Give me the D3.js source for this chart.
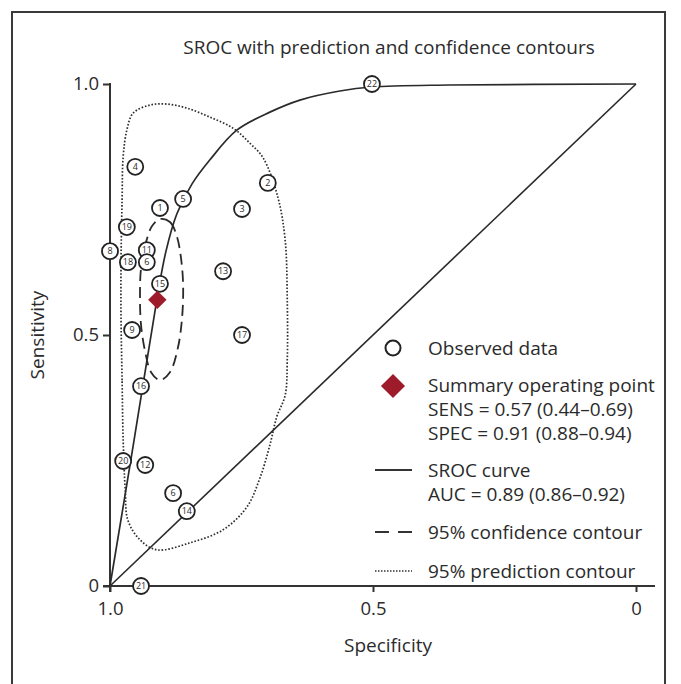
<!DOCTYPE html>
<html>
<head>
<meta charset="utf-8">
<script src="https://cdn.jsdelivr.net/npm/d3@7"></script>
<style>
  body { margin: 0; background: #fff; }
  text { font-family: "Open Sans", "Noto Sans", sans-serif; fill: #2b2b2b; }
</style>
</head>
<body>
<svg id="chart" width="681" height="684"></svg>
<script>
// observed studies: [label, specificity, sensitivity]
var studyLabels = ["4","2","5","1","3","19","8","11","18","6","13","15","9","17","16","20","12","6","14","21","22"]
var studySpec   = [0.952,0.700,0.861,0.905,0.749,0.968,1.000,0.930,0.966,0.930,0.785,0.905,0.958,0.749,0.941,0.975,0.933,0.880,0.854,0.941,0.502]
var studySens   = [0.835,0.803,0.771,0.753,0.751,0.715,0.667,0.669,0.645,0.645,0.627,0.602,0.510,0.500,0.398,0.249,0.241,0.185,0.149,0.000,1.000]

var summarySpec = 0.91, summarySens = 0.57

// SROC curve
var srocSpec = [1.000,0.956,0.911,0.894,0.873,0.844,0.810,0.759,0.696,0.639,0.563,0.502,0.354,0.000]
var srocSens = [0.000,0.279,0.570,0.665,0.741,0.801,0.849,0.908,0.944,0.968,0.986,0.994,0.998,1.000]

// 95% confidence contour
var confSpec = [0.905,0.886,0.873,0.865,0.861,0.863,0.871,0.886,0.905,0.922,0.933,0.941,0.943,0.941,0.932,0.920]
var confSens = [0.731,0.725,0.697,0.653,0.600,0.534,0.474,0.426,0.410,0.426,0.466,0.520,0.580,0.633,0.683,0.717]

// 95% prediction contour
var predSpec = [0.975,0.977,0.979,0.979,0.977,0.975,0.968,0.956,0.924,0.892,0.854,0.810,0.766,0.734,0.709,0.681,0.667,0.663,0.663,0.667,0.683,0.696,0.715,0.740,0.785,0.848,0.911,0.943,0.966,0.971]
var predSens = [0.291,0.410,0.530,0.649,0.769,0.855,0.908,0.942,0.958,0.960,0.952,0.934,0.912,0.882,0.853,0.775,0.689,0.570,0.450,0.380,0.337,0.281,0.215,0.157,0.112,0.086,0.072,0.092,0.131,0.191]

var tickVals = [1, 0.5, 0]
var tickText = {1: "1.0", 0.5: "0.5", 0: "0"}

var legendItems = [
    {type: "circle", lines: ["Observed data"]},
    {type: "diamond", lines: ["Summary operating point", "SENS = 0.57 (0.44\u20130.69)", "SPEC = 0.91 (0.88\u20130.94)"]},
    {type: "solid", lines: ["SROC curve", "AUC = 0.89 (0.86\u20130.92)"]},
    {type: "dash", lines: ["95% confidence contour"]},
    {type: "dot", lines: ["95% prediction contour"]}
]
var legendY = [348, 385, 470, 532, 571]

var svg = d3.select("#chart")

var margin = {top: 84, right: 45, bottom: 98, left: 110},
    width = +svg.attr("width") - margin.left - margin.right,
    height = +svg.attr("height") - margin.top - margin.bottom;

var x = d3.scaleLinear().domain([1, 0]).range([margin.left, margin.left + width])
var y = d3.scaleLinear().domain([0, 1]).range([margin.top + height, margin.top])

// outer frame
svg.append("rect")
    .attr("x", 12).attr("y", 12)
    .attr("width", 653).attr("height", 700)
    .attr("fill", "none").attr("stroke", "#3a3a3a").attr("stroke-width", 2)

svg.append("text")
    .attr("x", 389).attr("y", 54)
    .attr("text-anchor", "middle")
    .style("font-size", "19px")
    .text("SROC with prediction and confidence contours")

// axes
var xAxis = d3.axisBottom(x).tickValues(tickVals).tickSize(6).tickSizeOuter(0)
    .tickFormat(function(d){ return tickText[d] })
var yAxis = d3.axisLeft(y).tickValues(tickVals).tickSize(7).tickSizeOuter(0)
    .tickFormat(function(d){ return tickText[d] })

var gx = svg.append("g").attr("transform", "translate(0," + y(0) + ")").call(xAxis)
var gy = svg.append("g").attr("transform", "translate(" + x(1) + ",0)").call(yAxis)

gx.select(".domain").remove()
gy.select(".domain").remove()
;[gx, gy].forEach(function(g){
    g.selectAll(".tick line").attr("stroke", "#333").attr("stroke-width", 2)
    g.selectAll(".tick text").style("font-size", "18.5px").attr("fill", "#2b2b2b")
        .style("font-family", "'Open Sans', sans-serif")
})
gx.selectAll(".tick text").attr("y", 16).attr("dy", "0.71em")
gy.selectAll(".tick text").attr("x", -11)

svg.append("line")
    .attr("x1", x(1) - 7).attr("x2", x(0) + 19)
    .attr("y1", y(0)).attr("y2", y(0))
    .attr("stroke", "#333").attr("stroke-width", 2)
svg.append("line")
    .attr("x1", x(1)).attr("x2", x(1))
    .attr("y1", y(1) - 1).attr("y2", y(0) + 6)
    .attr("stroke", "#333").attr("stroke-width", 2)

svg.append("text")
    .attr("x", 388).attr("y", 652)
    .attr("text-anchor", "middle")
    .style("font-size", "19px")
    .text("Specificity")
svg.append("text")
    .attr("transform", "translate(44," + y(0.5) + ") rotate(-90)")
    .attr("text-anchor", "middle")
    .style("font-size", "19px")
    .text("Sensitivity")

// chance diagonal
svg.append("line")
    .attr("x1", x(1)).attr("y1", y(0))
    .attr("x2", x(0)).attr("y2", y(1))
    .attr("stroke", "#2a2a2a").attr("stroke-width", 1.6)

function pts(a, b){ return a.map(function(v, i){ return [v, b[i]] }) }

var line = d3.line()
    .x(function(d){ return x(d[0]) })
    .y(function(d){ return y(d[1]) })

svg.append("path")
    .datum(pts(predSpec, predSens))
    .attr("fill", "none").attr("stroke", "#2e2e2e").attr("stroke-width", 1.7)
    .attr("stroke-dasharray", "1.6,1.8")
    .attr("d", line.curve(d3.curveCatmullRomClosed))

svg.append("path")
    .datum(pts(confSpec, confSens))
    .attr("fill", "none").attr("stroke", "#2a2a2a").attr("stroke-width", 1.8)
    .attr("stroke-dasharray", "11,6")
    .attr("d", line.curve(d3.curveCatmullRomClosed))

svg.append("path")
    .datum(pts(srocSpec, srocSens))
    .attr("fill", "none").attr("stroke", "#2a2a2a").attr("stroke-width", 1.7)
    .attr("d", line.curve(d3.curveCatmullRom))

// observed points
var obs = svg.append("g").selectAll("g")
    .data(studyLabels.map(function(l, i){ return {label: l, spec: studySpec[i], sens: studySens[i]} }))
    .join("g")
    .attr("transform", function(d){ return "translate(" + x(d.spec) + "," + y(d.sens) + ")" })
obs.append("circle").attr("r", 8)
    .attr("fill", "#fff").attr("stroke", "#222").attr("stroke-width", 1.8)
obs.append("text")
    .attr("text-anchor", "middle").attr("dy", "0.36em")
    .style("font-size", "9px").attr("fill", "#4a5a7a")
    .text(function(d){ return d.label })

// summary point (square turned 45 degrees)
var diamond = d3.symbol(d3.symbolSquare)
svg.append("path")
    .attr("d", diamond.size(170)())
    .attr("transform", "translate(" + x(summarySpec) + "," + y(summarySens) + ") rotate(45)")
    .attr("fill", "#9e1b2b")

// legend
var lg = svg.append("g")
legendItems.forEach(function(item, i){
    var ly = legendY[i]
    if (item.type == "circle") {
        lg.append("circle").attr("cx", 393).attr("cy", ly).attr("r", 7.5)
            .attr("fill", "#fff").attr("stroke", "#222").attr("stroke-width", 2)
    } else if (item.type == "diamond") {
        lg.append("path").attr("d", diamond.size(290)())
            .attr("transform", "translate(393," + (ly + 1) + ") rotate(45)")
            .attr("fill", "#9e1b2b")
    } else {
        lg.append("line").attr("x1", 375).attr("x2", 412).attr("y1", ly).attr("y2", ly)
            .attr("stroke", "#333").attr("stroke-width", item.type == "dot" ? 1.3 : 1.8)
            .attr("stroke-dasharray", item.type == "dash" ? "14,9" : item.type == "dot" ? "1.5,1.5" : null)
    }
    item.lines.forEach(function(t, j){
        lg.append("text").attr("x", 428).attr("y", ly + j * 24).attr("dy", "0.35em")
            .style("font-size", "19px")
            .text(t)
    })
})
</script>
</body>
</html>
